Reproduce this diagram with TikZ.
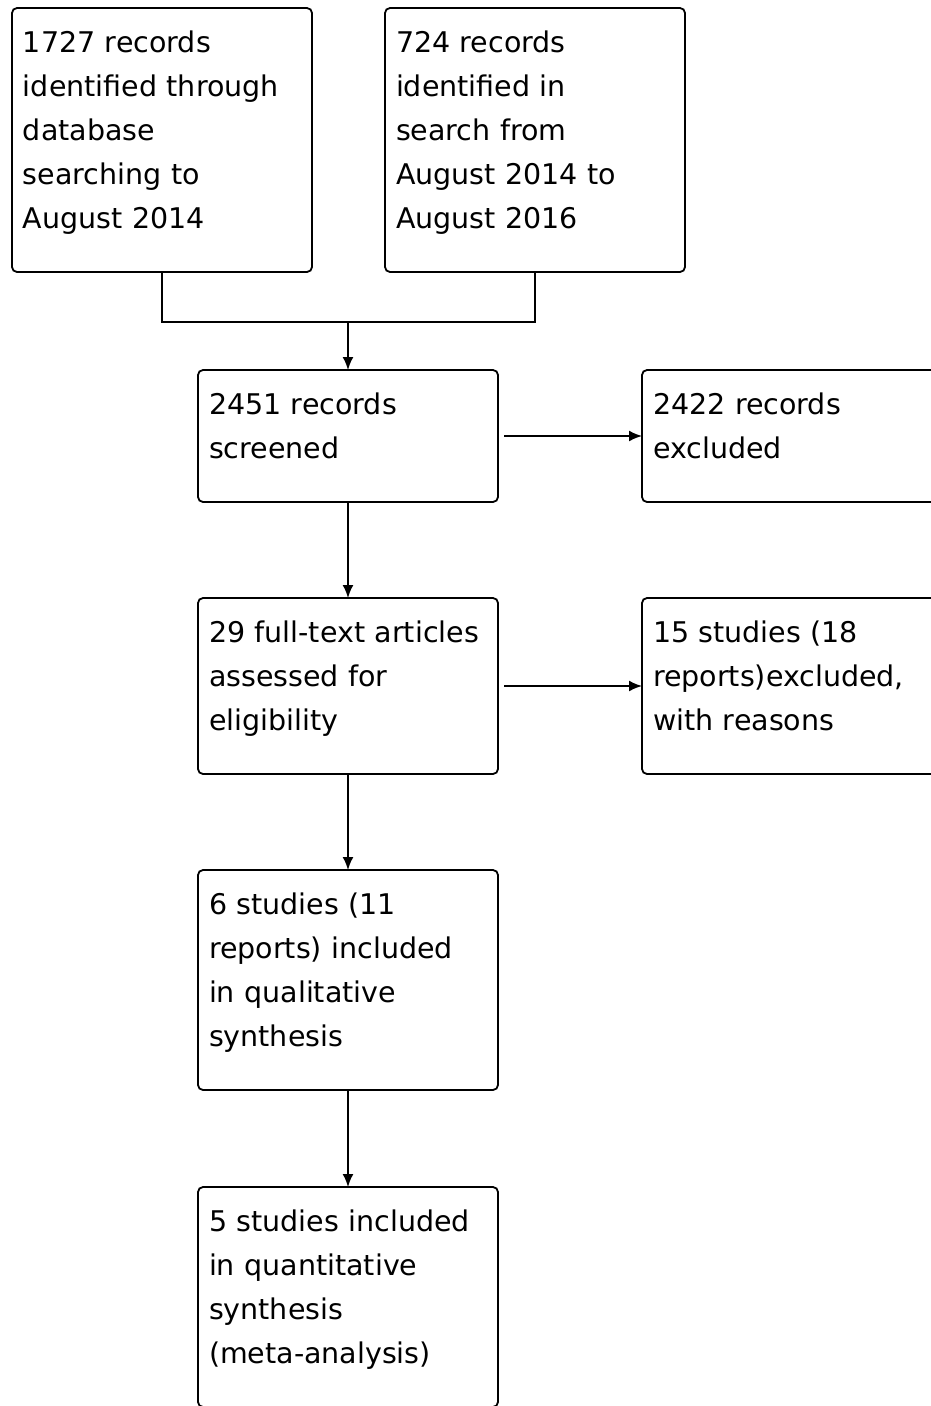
\documentclass[tikz,border=0pt]{standalone}
\usepackage{fontspec}
\setmainfont{DejaVu Sans}
\usetikzlibrary{positioning,arrows.meta}
\begin{document}
\begin{tikzpicture}[x=1pt, y=1pt, node distance=96pt and 144pt, every node/.style={draw,rectangle,rounded corners=5pt,line width=1.8pt,outer sep=0pt,align=left,text width=278pt,inner xsep=11pt,inner ysep=13.7pt,font=\fontsize{28.5}{44}\selectfont,execute at begin node=\strut,execute at end node={\rule[-29.8pt]{0pt}{29.8pt}}}, flow/.style={line width=1.8pt,-{Latex[length=13pt,width=11pt]}}]
		\path[use as bounding box, clip] (0,0) rectangle (931,-1406);
		\node[anchor=north west] (ident) at (12,-8) {1727 records\\identified through\\database\\searching to\\August 2014};
		\node[anchor=north west] (search) at (385,-8) {724 records\\identified in\\search from\\August 2014 to\\August 2016};
		\coordinate (merge) at (348,-322);
		\node[below=48pt of merge] (screen) {2451 records\\screened};
		\node[right=of screen] (excl) {2422 records\\excluded};
		\node[below=of screen] (full) {29 full-text articles\\assessed for\\eligibility};
		\node[right=of full] (exclfull) {15 studies (18\\reports)excluded,\\with reasons};
		\node[below=of full] (qual) {6 studies (11\\reports) included\\in qualitative\\synthesis};
		\node[below=97pt of qual] (quant) {5 studies included\\in quantitative\\synthesis\\(meta-analysis)};
		\draw[line width=1.8pt] (ident.south) |- (merge) -| (search.south);
		\draw[flow] (merge) -- (screen);
		\draw[flow, shorten <=6pt] (screen) -- (excl);
		\draw[flow] (screen) -- (full);
		\draw[flow, shorten <=6pt] (full) -- (exclfull);
		\draw[flow] (full) -- (qual);
		\draw[flow] (qual) -- (quant);
	\end{tikzpicture}
\end{document}
